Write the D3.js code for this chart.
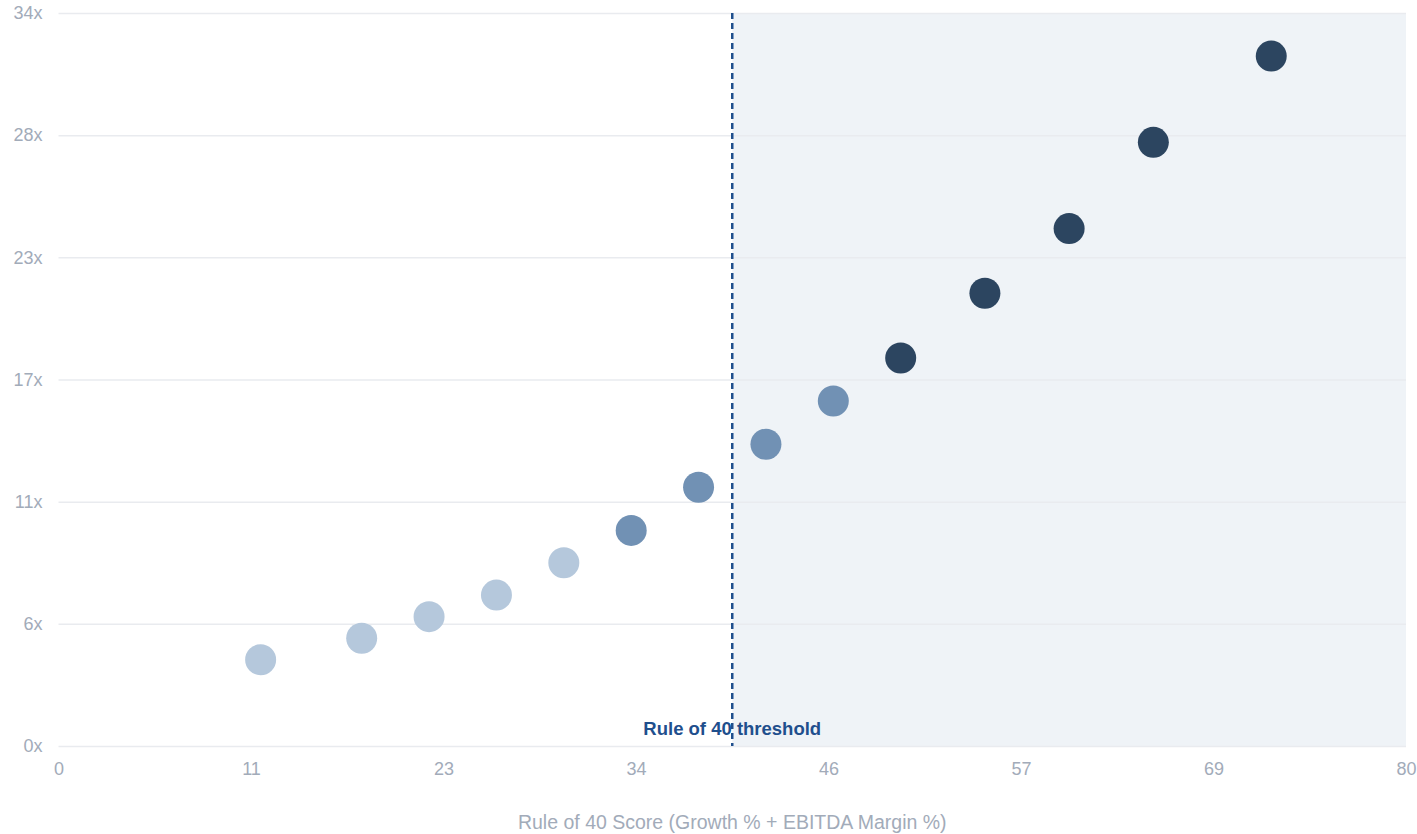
<!DOCTYPE html>
<html>
<head>
<meta charset="utf-8">
<script src="https://cdn.jsdelivr.net/npm/d3@7"></script>
<style>
  html, body { margin: 0; padding: 0; background: #ffffff; }
  svg { display: block; font-family: "Liberation Sans", Arial, sans-serif; }
</style>
</head>
<body>
<svg id="chart" width="1417" height="834"></svg>
<script>
// Rule of 40 score vs. EV / revenue multiple
const scores    = [12, 18, 22, 26, 30, 34, 38, 42, 46, 50, 55, 60, 65, 72];
const multiples = [4, 5, 6, 7, 8.5, 10, 12, 14, 16, 18, 21, 24, 28, 32];
const tiers     = ["low", "low", "low", "low", "low", "mid", "mid", "mid", "mid", "high", "high", "high", "high", "high"];
const xTicks = [0, 80 / 7, 160 / 7, 240 / 7, 320 / 7, 400 / 7, 480 / 7, 80];
const yTicks = [0, 34 / 6, 68 / 6, 17, 136 / 6, 170 / 6, 34];
const threshold = 40;
const thresholdLabel = "Rule of 40 threshold";
const xTitle = "Rule of 40 Score (Growth % + EBITDA Margin %)";

const tierColor = { low: "#b5c8dc", mid: "#7191b4", high: "#2c4560" };

const W = 1417, H = 834;
const margin = { top: 13, right: 11, bottom: 88, left: 58.5 };
const iw = W - margin.left - margin.right;
const ih = H - margin.top - margin.bottom;

const svg = d3.select("#chart");
const g = svg.append("g").attr("transform", `translate(${margin.left},${margin.top})`);

const x = d3.scaleLinear().domain([0, 80]).range([0, iw]);
const y = d3.scaleLinear().domain([0, 34]).range([ih, 0]);

// shaded zone above the threshold
g.append("rect")
  .attr("x", x(threshold)).attr("y", 0)
  .attr("width", x(80) - x(threshold)).attr("height", ih)
  .attr("fill", "#eff3f7");

// horizontal gridlines + y labels
const yAxis = d3.axisLeft(y).tickValues(yTicks)
  .tickSize(-iw).tickPadding(16)
  .tickFormat(d => Math.round(d) + "x");
const yg = g.append("g").call(yAxis);
yg.select(".domain").remove();
yg.selectAll(".tick line").attr("stroke", "#e9ebef").attr("stroke-width", 1.5);
yg.selectAll(".tick text").attr("fill", "#a2abb9").attr("font-size", 18).attr("x", -16);

// x labels
const xAxis = d3.axisBottom(x)
  .tickValues(xTicks).tickSize(0).tickPadding(16)
  .tickFormat(d => Math.round(d));
const xg = g.append("g").attr("transform", `translate(0,${ih})`).call(xAxis);
xg.select(".domain").remove();
xg.selectAll(".tick text").attr("fill", "#a2abb9").attr("font-size", 18);

// axis title
svg.append("text")
  .attr("x", margin.left + iw / 2).attr("y", 829)
  .attr("text-anchor", "middle")
  .attr("fill", "#a2abb9").attr("font-size", 19.5)
  .text(xTitle);

// threshold label
g.append("text")
  .attr("x", x(threshold)).attr("y", ih - 11)
  .attr("text-anchor", "middle")
  .attr("fill", "#1f4f8d").attr("font-size", 18.5).attr("font-weight", "bold")
  .text(thresholdLabel);

// threshold line
g.append("line")
  .attr("x1", x(threshold)).attr("x2", x(threshold))
  .attr("y1", 0).attr("y2", ih)
  .attr("stroke", "#1f4f8d").attr("stroke-width", 2.5)
  .attr("stroke-dasharray", "6,4");

// points
const data = scores.map((s, i) => ({ s, m: multiples[i], t: tiers[i] }));
g.append("g").selectAll("circle").data(data).join("circle")
  .attr("cx", d => x(d.s)).attr("cy", d => y(d.m))
  .attr("r", 15.5)
  .attr("fill", d => tierColor[d.t]);
</script>
</body>
</html>
